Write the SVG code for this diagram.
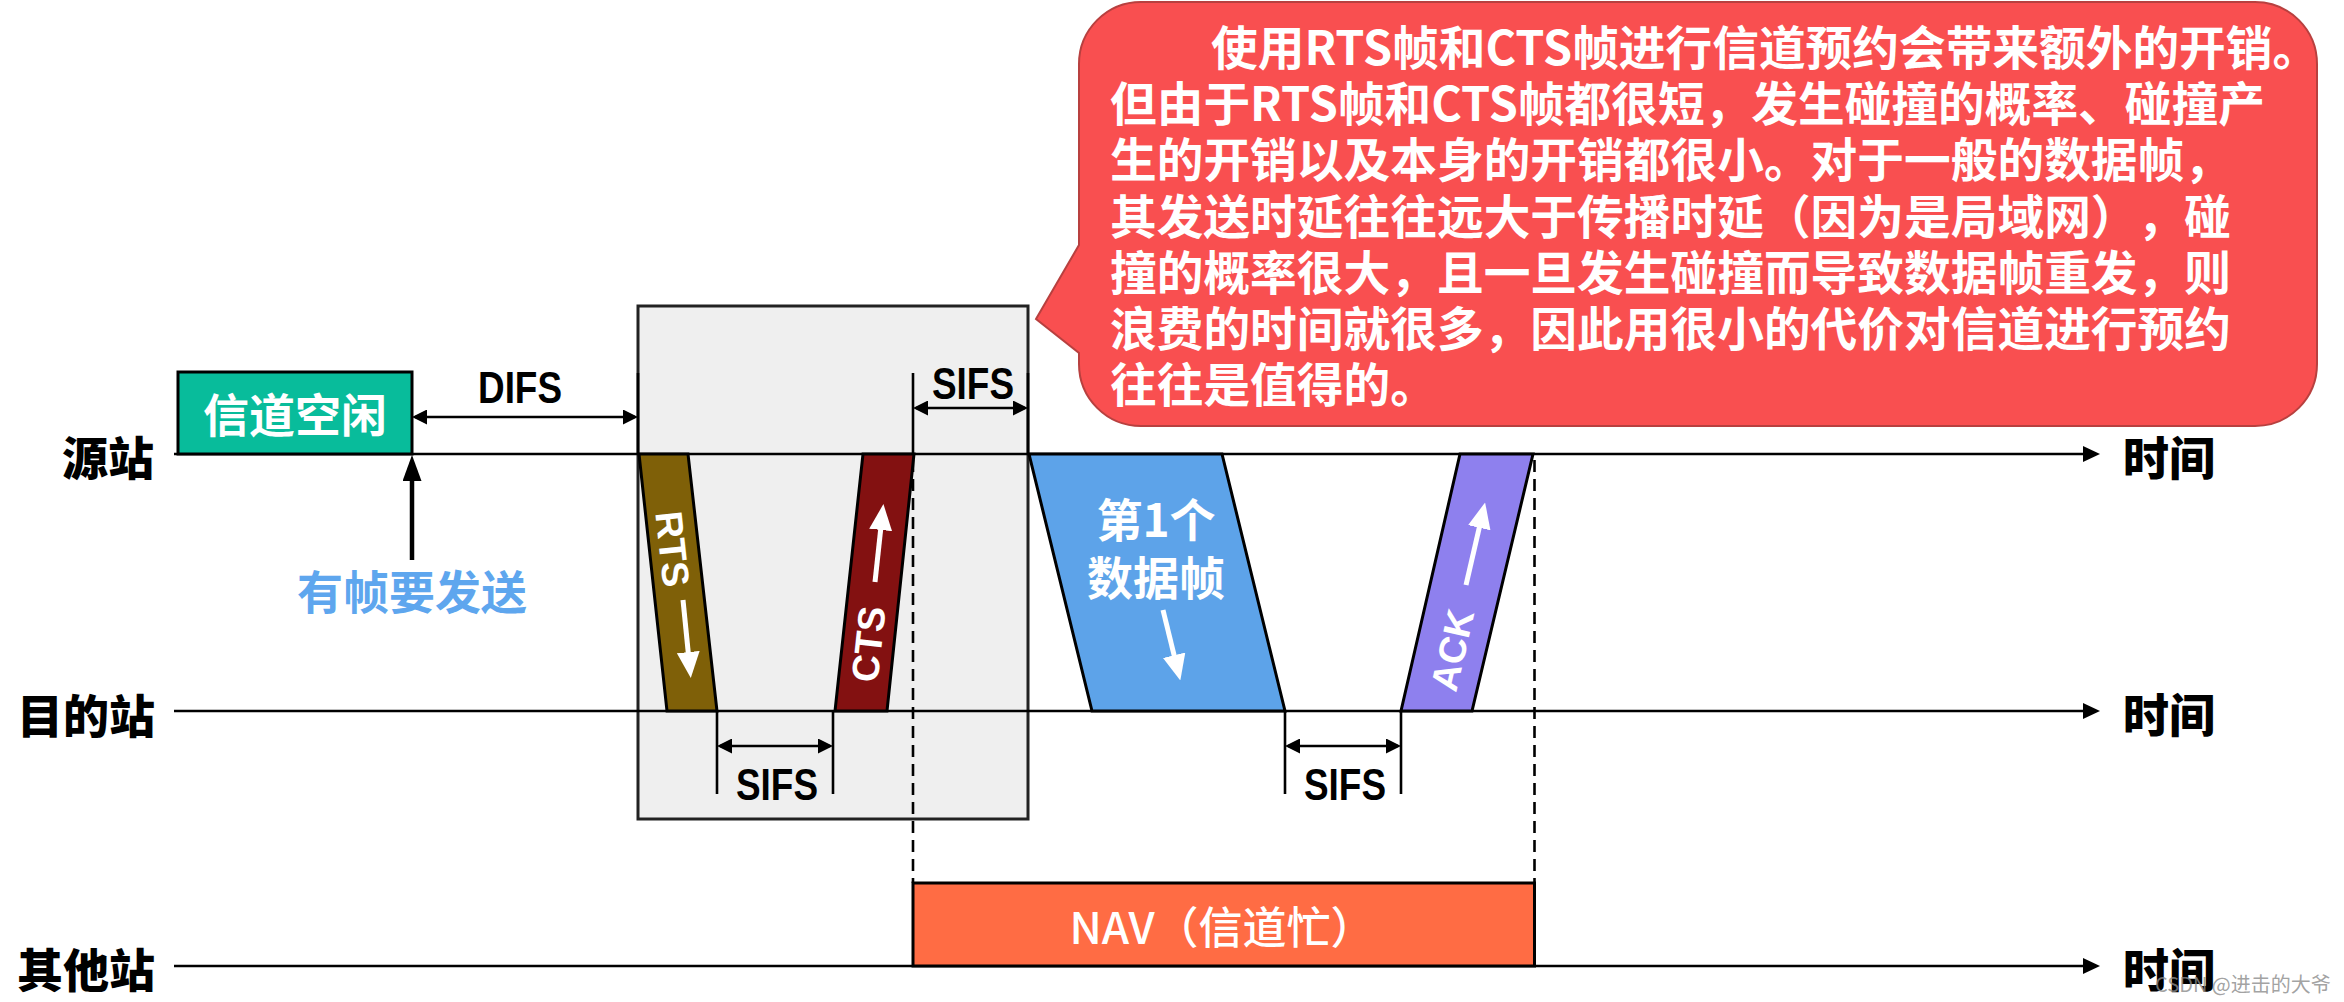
<svg xmlns="http://www.w3.org/2000/svg" width="2344" height="1002" viewBox="0 0 2344 1002">
  <style>
    .cjk { font-family: "Noto Sans CJK SC", "Noto Sans", sans-serif; text-spacing-trim: space-all; }
    .lbl { font-family: "Noto Sans CJK SC", "Noto Sans", sans-serif; font-weight: 900; font-size: 46px; fill: #000; }
    .lat { font-family: "Liberation Sans", Arial, sans-serif; font-weight: 700; }
    .dim { font-family: "Liberation Sans", Arial, sans-serif; font-weight: 700; font-size: 44px; fill: #000; }
    .axis { stroke: #000; stroke-width: 2.6; fill: none; }
    .tick { stroke: #000; stroke-width: 2.6; fill: none; }
    .dimln { stroke: #000; stroke-width: 2.6; fill: none; }
    .dash { stroke: #000; stroke-width: 2.6; stroke-dasharray: 12 7; fill: none; }
    .frame { stroke: #000; stroke-width: 3; }
    .warr { stroke: #fff; stroke-width: 5; fill: none; }
    .callout { font-family: "Noto Sans CJK SC", "Noto Sans", sans-serif; font-weight: 700; font-size: 46.7px; fill: #fff; text-spacing-trim: space-all; }
  </style>
  <defs>
    <marker id="axisHead" markerUnits="userSpaceOnUse" markerWidth="18" markerHeight="16" refX="13" refY="8" orient="auto">
      <path d="M0,0 L17,8 L0,16 z" fill="#000"/>
    </marker>
    <marker id="dimHead" markerUnits="userSpaceOnUse" markerWidth="15" markerHeight="15" refX="12" refY="7.5" orient="auto-start-reverse">
      <path d="M0,0 L15,7.5 L0,15 z" fill="#000"/>
    </marker>
    <marker id="bigHead" markerUnits="userSpaceOnUse" markerWidth="26" markerHeight="19" refX="12" refY="9.5" orient="auto">
      <path d="M0,0 L26,9.5 L0,19 z" fill="#000"/>
    </marker>
    <marker id="whiteHead" markerUnits="userSpaceOnUse" markerWidth="26" markerHeight="23" refX="10" refY="11.5" orient="auto">
      <path d="M0,0 L26,11.5 L0,23 z" fill="#fff"/>
    </marker>
  </defs>

  <rect width="2344" height="1002" fill="#fff"/>

  <!-- RTS/CTS reservation background box -->
  <g id="rts-cts-box">
    <rect x="638" y="306" width="390" height="513" fill="#EFEFEF" stroke="#222" stroke-width="3"/>
  </g>

  <!-- Callout bubble -->
  <g id="callout">
    <path d="M1141,2 H2255 A62,62 0 0 1 2317,64 V364 A62,62 0 0 1 2255,426 H1141 A62,62 0 0 1 1079,364 V353 L1036,319 L1079,245 V64 A62,62 0 0 1 1141,2 Z" fill="#F94F50" stroke="#B8403F" stroke-width="2"/>
    <text class="callout" x="1211" y="44" dominant-baseline="central">使用RTS帧和CTS帧进行信道预约会带来额外的开销。</text>
    <text class="callout" x="1110" y="100" dominant-baseline="central">但由于RTS帧和CTS帧都很短，发生碰撞的概率、碰撞产</text>
    <text class="callout" x="1110" y="156" dominant-baseline="central" textLength="1121" lengthAdjust="spacingAndGlyphs">生的开销以及本身的开销都很小。对于一般的数据帧，</text>
    <text class="callout" x="1110" y="213" dominant-baseline="central" textLength="1121" lengthAdjust="spacingAndGlyphs">其发送时延往往远大于传播时延（因为是局域网），碰</text>
    <text class="callout" x="1110" y="269" dominant-baseline="central" textLength="1121" lengthAdjust="spacingAndGlyphs">撞的概率很大，且一旦发生碰撞而导致数据帧重发，则</text>
    <text class="callout" x="1110" y="325" dominant-baseline="central" textLength="1121" lengthAdjust="spacingAndGlyphs">浪费的时间就很多，因此用很小的代价对信道进行预约</text>
    <text class="callout" x="1110" y="381" dominant-baseline="central">往往是值得的。</text>
  </g>

  <!-- Connectors: time axes, dimension lines, ticks, dashed lines, arrows -->
  <g id="connectors">
    <line class="axis" x1="174" y1="454" x2="2096" y2="454" marker-end="url(#axisHead)"/>
    <line class="axis" x1="174" y1="711" x2="2096" y2="711" marker-end="url(#axisHead)"/>
    <line class="axis" x1="174" y1="966" x2="2096" y2="966" marker-end="url(#axisHead)"/>

    <!-- ticks -->
    <line class="tick" x1="638" y1="373" x2="638" y2="454"/>
    <line class="tick" x1="913" y1="373" x2="913" y2="454"/>
    <line class="tick" x1="1028" y1="373" x2="1028" y2="454"/>
    <line class="tick" x1="717" y1="711" x2="717" y2="794"/>
    <line class="tick" x1="833" y1="711" x2="833" y2="794"/>
    <line class="tick" x1="1285" y1="711" x2="1285" y2="794"/>
    <line class="tick" x1="1401" y1="711" x2="1401" y2="794"/>

    <!-- dimension arrows -->
    <line class="dimln" x1="415" y1="417" x2="635" y2="417" marker-start="url(#dimHead)" marker-end="url(#dimHead)"/>
    <line class="dimln" x1="916" y1="408" x2="1025" y2="408" marker-start="url(#dimHead)" marker-end="url(#dimHead)"/>
    <line class="dimln" x1="720" y1="746" x2="830" y2="746" marker-start="url(#dimHead)" marker-end="url(#dimHead)"/>
    <line class="dimln" x1="1288" y1="746" x2="1398" y2="746" marker-start="url(#dimHead)" marker-end="url(#dimHead)"/>

    <!-- dashed NAV boundaries -->
    <line class="dash" x1="913" y1="460" x2="913" y2="883"/>
    <line class="dash" x1="1534.5" y1="460" x2="1534.5" y2="883"/>

    <!-- "frame to send" arrow -->
    <line x1="412" y1="560" x2="412" y2="469" stroke="#000" stroke-width="4.5" marker-end="url(#bigHead)"/>
  </g>

  <!-- Source station idle box -->
  <g id="channel-idle">
    <rect x="178" y="372" width="234" height="82" fill="#08BC9B" stroke="#000" stroke-width="3"/>
    <text class="cjk" x="295" y="412" font-size="46" font-weight="700" fill="#fff" text-anchor="middle" dominant-baseline="central">信道空闲</text>
  </g>

  <g id="label-difs">
    <text class="dim" x="520" y="403" text-anchor="middle" textLength="84" lengthAdjust="spacingAndGlyphs" font-size="45">DIFS</text>
  </g>
  <g id="label-sifs-1">
    <text class="dim" x="973" y="399" text-anchor="middle" textLength="82" lengthAdjust="spacingAndGlyphs">SIFS</text>
  </g>
  <g id="label-sifs-2">
    <text class="dim" x="777" y="800" text-anchor="middle" textLength="82" lengthAdjust="spacingAndGlyphs">SIFS</text>
  </g>
  <g id="label-sifs-3">
    <text class="dim" x="1345" y="800" text-anchor="middle" textLength="82" lengthAdjust="spacingAndGlyphs">SIFS</text>
  </g>

  <g id="label-has-frame">
    <text class="cjk" x="412" y="589" font-size="46" font-weight="700" fill="#5EA6EE" text-anchor="middle" dominant-baseline="central">有帧要发送</text>
  </g>

  <!-- RTS frame -->
  <g id="rts-frame">
    <polygon class="frame" points="639,454 688,454 717,711 667,711" fill="#7F6008"/>
    <text class="lat" transform="translate(673,549) rotate(83.8)" x="0" y="13.6" font-size="38" fill="#fff" text-anchor="middle">RTS</text>
    <line class="warr" x1="683" y1="600" x2="689.2" y2="662" marker-end="url(#whiteHead)"/>
  </g>

  <!-- CTS frame -->
  <g id="cts-frame">
    <polygon class="frame" points="863,454 914,454 887,711 835,711" fill="#831111"/>
    <text class="lat" transform="translate(868,644) rotate(-83.8)" x="0" y="13.6" font-size="38" fill="#fff" text-anchor="middle">CTS</text>
    <line class="warr" x1="875" y1="582" x2="881.7" y2="520" marker-end="url(#whiteHead)"/>
  </g>

  <!-- First data frame -->
  <g id="data-frame">
    <polygon class="frame" points="1029,454 1222,454 1285,711 1092,711" fill="#5DA3E9"/>
    <text class="cjk" x="1156" y="517" font-size="46" font-weight="700" fill="#fff" text-anchor="middle" dominant-baseline="central">第1个</text>
    <text class="cjk" x="1156" y="575" font-size="46" font-weight="700" fill="#fff" text-anchor="middle" dominant-baseline="central">数据帧</text>
    <line class="warr" x1="1163" y1="610" x2="1176.5" y2="665" marker-end="url(#whiteHead)"/>
  </g>

  <!-- ACK frame -->
  <g id="ack-frame">
    <polygon class="frame" points="1460,454 1533,454 1472,711 1401,711" fill="#8E80EE"/>
    <text class="lat" transform="translate(1452,650) rotate(-77)" x="0" y="13.6" font-size="38" fill="#fff" text-anchor="middle">ACK</text>
    <line class="warr" x1="1466" y1="585" x2="1481.5" y2="518" marker-end="url(#whiteHead)"/>
  </g>

  <!-- NAV -->
  <g id="nav">
    <rect x="913" y="883" width="621.5" height="83" fill="#FF6C44" stroke="#000" stroke-width="3"/>
    <text class="cjk" x="1222" y="925" font-size="44" font-weight="500" fill="#fff" text-anchor="middle" dominant-baseline="central">NAV（信道忙）</text>
  </g>

  <!-- Station labels -->
  <g id="station-source"><text class="lbl" x="108" y="455" text-anchor="middle" dominant-baseline="central">源站</text></g>
  <g id="station-dest"><text class="lbl" x="86" y="713" text-anchor="middle" dominant-baseline="central">目的站</text></g>
  <g id="station-other"><text class="lbl" x="86" y="967" text-anchor="middle" dominant-baseline="central">其他站</text></g>

  <g id="time-1"><text class="lbl" x="2169" y="455" text-anchor="middle" dominant-baseline="central">时间</text></g>
  <g id="time-2"><text class="lbl" x="2169" y="712" text-anchor="middle" dominant-baseline="central">时间</text></g>
  <g id="time-3"><text class="lbl" x="2169" y="967" text-anchor="middle" dominant-baseline="central">时间</text></g>

  <g id="watermark">
    <text class="cjk" x="2155" y="983" font-size="20" fill="#8a8a8a" fill-opacity="0.8" dominant-baseline="central">CSDN @进击的大爷</text>
  </g>
</svg>
